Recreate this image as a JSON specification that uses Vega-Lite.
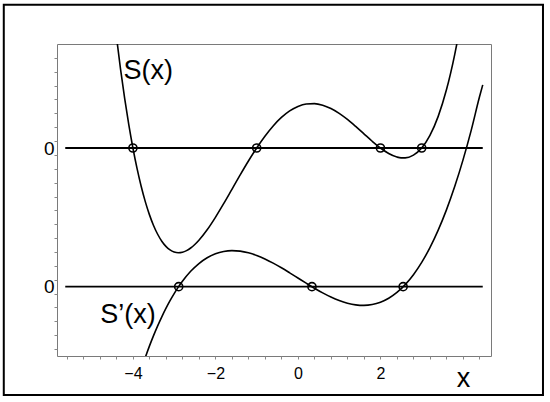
{
  "$schema": "https://vega.github.io/schema/vega-lite/v6.json",
  "width": 434,
  "height": 312,
  "autosize": {"type": "none"},
  "padding": {"left": 57, "top": 44, "right": 59, "bottom": 46},
  "background": "white",
  "config": {
    "view": {"stroke": "#7a7a7a", "strokeWidth": 1},
    "font": "Liberation Sans",
    "axis": {"labelFont": "Liberation Sans", "labelColor": "black", "tickColor": "#888888"},
    "axisX": {"labelFontSize": 16},
    "axisY": {"labelFontSize": 19}
  },
  "datasets": {
    "zero": [
      {"curve": "S", "x": -5.64, "x2": 4.48, "y": 4},
      {"curve": "S'", "x": -5.64, "x2": 4.48, "y": 0}
    ],
    "curves": [
      {"curve": "S", "x": -4.5, "y": 8.27},
      {"curve": "S", "x": -4.4, "y": 7.22},
      {"curve": "S", "x": -4.3, "y": 6.277},
      {"curve": "S", "x": -4.2, "y": 5.429},
      {"curve": "S", "x": -4.1, "y": 4.671},
      {"curve": "S", "x": -4.0, "y": 4.0},
      {"curve": "S", "x": -3.9, "y": 3.41},
      {"curve": "S", "x": -3.8, "y": 2.896},
      {"curve": "S", "x": -3.7, "y": 2.453},
      {"curve": "S", "x": -3.6, "y": 2.078},
      {"curve": "S", "x": -3.5, "y": 1.766},
      {"curve": "S", "x": -3.4, "y": 1.512},
      {"curve": "S", "x": -3.3, "y": 1.312},
      {"curve": "S", "x": -3.2, "y": 1.163},
      {"curve": "S", "x": -3.1, "y": 1.06},
      {"curve": "S", "x": -3.0, "y": 1.0},
      {"curve": "S", "x": -2.9, "y": 0.979},
      {"curve": "S", "x": -2.8, "y": 0.993},
      {"curve": "S", "x": -2.7, "y": 1.04},
      {"curve": "S", "x": -2.6, "y": 1.115},
      {"curve": "S", "x": -2.5, "y": 1.216},
      {"curve": "S", "x": -2.4, "y": 1.339},
      {"curve": "S", "x": -2.2, "y": 1.641},
      {"curve": "S", "x": -2.0, "y": 2.0},
      {"curve": "S", "x": -1.8, "y": 2.395},
      {"curve": "S", "x": -1.6, "y": 2.808},
      {"curve": "S", "x": -1.4, "y": 3.222},
      {"curve": "S", "x": -1.2, "y": 3.624},
      {"curve": "S", "x": -1.0, "y": 4.0},
      {"curve": "S", "x": -0.8, "y": 4.34},
      {"curve": "S", "x": -0.6, "y": 4.636},
      {"curve": "S", "x": -0.4, "y": 4.881},
      {"curve": "S", "x": -0.2, "y": 5.07},
      {"curve": "S", "x": 0.0, "y": 5.2},
      {"curve": "S", "x": 0.2, "y": 5.27},
      {"curve": "S", "x": 0.4, "y": 5.281},
      {"curve": "S", "x": 0.6, "y": 5.236},
      {"curve": "S", "x": 0.8, "y": 5.14},
      {"curve": "S", "x": 1.0, "y": 5.0},
      {"curve": "S", "x": 1.2, "y": 4.824},
      {"curve": "S", "x": 1.4, "y": 4.622},
      {"curve": "S", "x": 1.6, "y": 4.408},
      {"curve": "S", "x": 1.8, "y": 4.195},
      {"curve": "S", "x": 2.0, "y": 4.0},
      {"curve": "S", "x": 2.2, "y": 3.841},
      {"curve": "S", "x": 2.4, "y": 3.739},
      {"curve": "S", "x": 2.5, "y": 3.716},
      {"curve": "S", "x": 2.6, "y": 3.715},
      {"curve": "S", "x": 2.8, "y": 3.793},
      {"curve": "S", "x": 3.0, "y": 4.0},
      {"curve": "S", "x": 3.2, "y": 4.363},
      {"curve": "S", "x": 3.4, "y": 4.912},
      {"curve": "S", "x": 3.6, "y": 5.678},
      {"curve": "S", "x": 3.7, "y": 6.153},
      {"curve": "S", "x": 3.8, "y": 6.696},
      {"curve": "S", "x": 3.9, "y": 7.31},
      {"curve": "S", "x": 4.0, "y": 8.0},
      {"curve": "S'", "x": -3.75, "y": -2.211},
      {"curve": "S'", "x": -3.6, "y": -1.716},
      {"curve": "S'", "x": -3.5, "y": -1.413},
      {"curve": "S'", "x": -3.4, "y": -1.131},
      {"curve": "S'", "x": -3.3, "y": -0.869},
      {"curve": "S'", "x": -3.2, "y": -0.627},
      {"curve": "S'", "x": -3.1, "y": -0.404},
      {"curve": "S'", "x": -3.0, "y": -0.2},
      {"curve": "S'", "x": -2.9, "y": -0.014},
      {"curve": "S'", "x": -2.8, "y": 0.155},
      {"curve": "S'", "x": -2.6, "y": 0.443},
      {"curve": "S'", "x": -2.4, "y": 0.668},
      {"curve": "S'", "x": -2.2, "y": 0.835},
      {"curve": "S'", "x": -2.0, "y": 0.95},
      {"curve": "S'", "x": -1.8, "y": 1.017},
      {"curve": "S'", "x": -1.6, "y": 1.041},
      {"curve": "S'", "x": -1.4, "y": 1.026},
      {"curve": "S'", "x": -1.2, "y": 0.977},
      {"curve": "S'", "x": -1.0, "y": 0.9},
      {"curve": "S'", "x": -0.8, "y": 0.799},
      {"curve": "S'", "x": -0.6, "y": 0.679},
      {"curve": "S'", "x": -0.4, "y": 0.544},
      {"curve": "S'", "x": -0.2, "y": 0.399},
      {"curve": "S'", "x": 0.0, "y": 0.25},
      {"curve": "S'", "x": 0.2, "y": 0.101},
      {"curve": "S'", "x": 0.4, "y": -0.044},
      {"curve": "S'", "x": 0.6, "y": -0.179},
      {"curve": "S'", "x": 0.8, "y": -0.299},
      {"curve": "S'", "x": 1.0, "y": -0.4},
      {"curve": "S'", "x": 1.2, "y": -0.477},
      {"curve": "S'", "x": 1.4, "y": -0.526},
      {"curve": "S'", "x": 1.6, "y": -0.541},
      {"curve": "S'", "x": 1.8, "y": -0.517},
      {"curve": "S'", "x": 2.0, "y": -0.45},
      {"curve": "S'", "x": 2.2, "y": -0.335},
      {"curve": "S'", "x": 2.4, "y": -0.168},
      {"curve": "S'", "x": 2.6, "y": 0.058},
      {"curve": "S'", "x": 2.8, "y": 0.345},
      {"curve": "S'", "x": 3.0, "y": 0.7},
      {"curve": "S'", "x": 3.2, "y": 1.127},
      {"curve": "S'", "x": 3.4, "y": 1.631},
      {"curve": "S'", "x": 3.6, "y": 2.216},
      {"curve": "S'", "x": 3.8, "y": 2.887},
      {"curve": "S'", "x": 4.0, "y": 3.65},
      {"curve": "S'", "x": 4.2, "y": 4.509},
      {"curve": "S'", "x": 4.4, "y": 5.469},
      {"curve": "S'", "x": 4.48, "y": 5.82}
    ],
    "roots": [
      {"curve": "S", "x": -4.0, "y": 4},
      {"curve": "S", "x": -1.0, "y": 4},
      {"curve": "S", "x": 2.0, "y": 4},
      {"curve": "S", "x": 3.0, "y": 4},
      {"curve": "S'", "x": -2.89, "y": 0},
      {"curve": "S'", "x": 0.34, "y": 0},
      {"curve": "S'", "x": 2.55, "y": 0}
    ],
    "labels": [
      {"label": "S(x)", "x": -4.23, "y": 5.98},
      {"label": "S’(x)", "x": -4.79, "y": -1.056}
    ]
  },
  "encoding": {
    "x": {
      "field": "x",
      "type": "quantitative",
      "scale": {"domain": [-5.84, 4.68], "nice": false, "zero": false},
      "axis": {
        "title": null,
        "values": [-5.6, -5.2, -4.8, -4.4, -4, -3.6, -3.2, -2.8, -2.4, -2, -1.6, -1.2, -0.8, -0.4, 0, 0.4, 0.8, 1.2, 1.6, 2, 2.4, 2.8, 3.2, 3.6, 4, 4.4],
        "domain": false,
        "grid": false,
        "tickSize": 3,
        "tickWidth": 1,
        "labelExpr": "datum.value == 4 ? 'x' : datum.value == -4 ? '−4' : datum.value == -2 ? '−2' : datum.value == 0 ? '0' : datum.value == 2 ? '2' : ''",
        "labelFontSize": {"condition": {"test": "datum.value == 4", "value": 27}, "value": 16},
        "labelPadding": 6,
        "labelOverlap": false,
        "labelFlush": false,
        "labelBound": false
      }
    },
    "y": {
      "field": "y",
      "type": "quantitative",
      "scale": {"domain": [-2, 7], "nice": false, "zero": false},
      "axis": {
        "title": null,
        "values": [-1.8, -1.4, -1.0, -0.6, -0.2, 0, 0.2, 0.6, 1.0, 1.4, 1.8, 2.2, 2.6, 3.0, 3.4, 3.8, 4, 4.2, 4.6, 5.0, 5.4, 5.8, 6.2, 6.6],
        "domain": false,
        "grid": false,
        "tickSize": {"condition": {"test": "datum.value == 0 || datum.value == 4", "value": 0}, "value": 3},
        "tickWidth": 1,
        "labelExpr": "datum.value == 0 || datum.value == 4 ? '0' : ''",
        "labelFontSize": 19,
        "labelPadding": 3,
        "labelOverlap": false,
        "labelFlush": false,
        "labelBound": false
      }
    }
  },
  "layer": [
    {
      "data": {"name": "zero"},
      "mark": {"type": "rule", "color": "black", "strokeWidth": 1.8},
      "encoding": {
        "x2": {"field": "x2"}
      }
    },
    {
      "data": {"name": "curves"},
      "mark": {"type": "line", "color": "black", "strokeWidth": 1.6, "interpolate": "monotone", "clip": true},
      "encoding": {
        "detail": {"field": "curve", "type": "nominal"},
        "order": {"field": "x", "type": "quantitative"}
      }
    },
    {
      "data": {"name": "roots"},
      "mark": {"type": "point", "shape": "circle", "filled": false, "size": 65, "stroke": "black", "strokeWidth": 1.6, "opacity": 1}
    },
    {
      "data": {"name": "labels"},
      "mark": {"type": "text", "align": "left", "baseline": "alphabetic", "fontSize": 27, "font": "Liberation Sans", "color": "black"},
      "encoding": {
        "text": {"field": "label", "type": "nominal"}
      }
    },
    {
      "data": {"values": [{"x": -7.13, "x2": 5.94, "y": 8.13, "y2": -3.125}]},
      "mark": {"type": "rect", "fillOpacity": 0, "stroke": "black", "strokeWidth": 2, "clip": false},
      "encoding": {
        "x2": {"field": "x2"},
        "y2": {"field": "y2"}
      }
    }
  ]
}
